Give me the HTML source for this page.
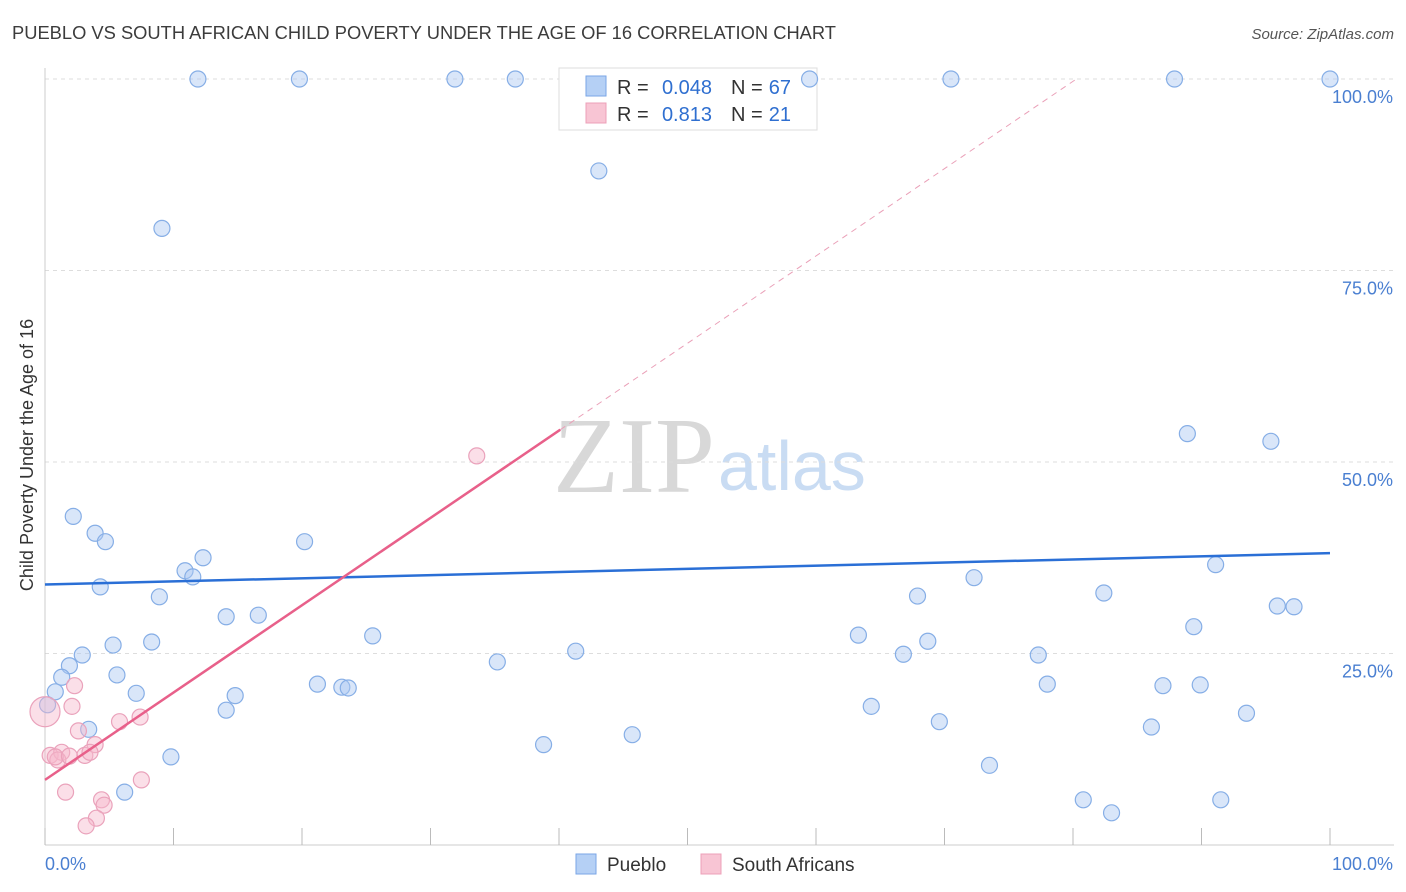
<!DOCTYPE html>
<html><head><meta charset="utf-8"><style>
body{margin:0;background:#fff;font-family:"Liberation Sans",sans-serif}
svg{display:block}
</style></head><body>
<svg id="chart" width="1406" height="892">
<text x="12" y="39" font-size="18" fill="#3c3c3c" textLength="824" lengthAdjust="spacingAndGlyphs">PUEBLO VS SOUTH AFRICAN CHILD POVERTY UNDER THE AGE OF 16 CORRELATION CHART</text>
<text x="1394" y="39" font-size="15" fill="#555" font-style="italic" text-anchor="end">Source: ZipAtlas.com</text>
<text x="33" y="455" font-size="18" fill="#333" text-anchor="middle" transform="rotate(-90 33 455)">Child Poverty Under the Age of 16</text>
<text x="715" y="492" font-size="108" fill="#d8d8d8" text-anchor="end" font-family="Liberation Serif,serif">ZIP</text>
<text x="718" y="490" font-size="70" fill="#c9dcf3">atlas</text>
<g id="grid"></g>
<g>
<rect x="559" y="68" width="258" height="62" fill="#fff" stroke="#ddd"/>
<rect x="586" y="76" width="20" height="20" fill="#b5d0f5" stroke="#7aa6e6"/>
<rect x="586" y="103" width="20" height="20" fill="#f8c5d4" stroke="#eda0b8"/>
<text x="617" y="94" font-size="20" fill="#333">R =</text>
<text x="712" y="94" font-size="20" fill="#2f6fd0" text-anchor="end">0.048</text>
<text x="731" y="94" font-size="20" fill="#333">N =</text>
<text x="791" y="94" font-size="20" fill="#2f6fd0" text-anchor="end">67</text>
<text x="617" y="121" font-size="20" fill="#333">R =</text>
<text x="712" y="121" font-size="20" fill="#2f6fd0" text-anchor="end">0.813</text>
<text x="731" y="121" font-size="20" fill="#333">N =</text>
<text x="791" y="121" font-size="20" fill="#2f6fd0" text-anchor="end">21</text>
</g>
<g id="marks"></g>
<g>
<rect x="576" y="854" width="20" height="20" fill="#b5d0f5" stroke="#7aa6e6"/>
<text x="607" y="871" font-size="19" fill="#333">Pueblo</text>
<rect x="701" y="854" width="20" height="20" fill="#f8c5d4" stroke="#eda0b8"/>
<text x="732" y="871" font-size="19" fill="#333">South Africans</text>
</g>
</svg>
<script>
const puebloX=[11.9,19.8,31.9,36.6,59.5,70.5,87.9,100,43.1,9.1,88.9,95.4,2.2,3.9,4.7,20.2,12.3,10.9,11.5,4.3,8.9,72.3,91.1,67.9,82.4,95.9,97.2,14.1,16.6,89.4,5.3,8.3,25.5,63.3,68.7,41.3,2.9,66.8,77.3,35.2,1.9,1.3,5.6,21.2,23.1,23.6,78.0,87.0,89.9,0.8,7.1,14.8,0.2,14.1,64.3,93.5,69.6,3.4,86.1,45.7,38.8,9.8,73.5,6.2,80.8,91.5,83.0];
const puebloY=[100,100,100,100,100,100,100,100,88.0,80.5,53.7,52.7,42.9,40.7,39.6,39.6,37.5,35.8,35.0,33.7,32.4,34.9,36.6,32.5,32.9,31.2,31.1,29.8,30.0,28.5,26.1,26.5,27.3,27.4,26.6,25.3,24.8,24.9,24.8,23.9,23.4,21.9,22.2,21.0,20.6,20.5,21.0,20.8,20.9,20.0,19.8,19.5,18.3,17.6,18.1,17.2,16.1,15.1,15.4,14.4,13.1,11.5,10.4,6.9,5.9,5.9,4.2];
const saX=[0,33.6,2.3,2.1,2.6,5.8,7.4,0.4,1.3,1.0,3.1,3.9,3.5,7.5,1.6,4.4,4.6,4.0,3.2,0.8,1.9];
const saY=[17.4,50.8,20.8,18.1,14.9,16.1,16.7,11.7,12.1,11.1,11.7,13.1,12.1,8.5,6.9,5.9,5.2,3.5,2.5,11.5,11.6];
const yTicks=[25,50,75,100];
const yTickLabels=["25.0%","50.0%","75.0%","100.0%"];
const xTicks=[0,10,20,30,40,50,60,70,80,90,100];
const blueLine=[34.0,38.1];
const pinkLine=[8.5,1.14];
const NS="http://www.w3.org/2000/svg";
const sx=v=>45+v*12.85, sy=v=>845-v*7.66;
function mk(tag,attrs,parent){const e=document.createElementNS(NS,tag);for(const k in attrs)e.setAttribute(k,attrs[k]);parent.appendChild(e);return e;}
const grid=document.getElementById('grid'),marks=document.getElementById('marks');
yTicks.forEach((t,i)=>{
 const l=mk('line',{x1:45,x2:1394,y1:sy(t),y2:sy(t),stroke:'#ddd','stroke-dasharray':'4,4'},grid);
 
 
 const tx=mk('text',{x:1393,y:sy(t)+24,'font-size':18,fill:'#4a7fd1','text-anchor':'end'},grid);
 tx.textContent=yTickLabels[i];
 
 
});
const ax=mk('line',{x1:45,x2:45,y1:68,y2:845,stroke:'#ccc'},grid);


const bx=mk('line',{x1:45,x2:1394,y1:845,y2:845,stroke:'#ccc'},grid);


xTicks.forEach(t=>{
 const l=mk('line',{x1:sx(t),x2:sx(t),y1:828,y2:845,stroke:'#bbb'},grid);
 
 
});
[["0.0%",45,'start'],["100.0%",1393,'end']].forEach(a=>{
 const t=mk('text',{x:a[1],y:870,'font-size':18,fill:'#4a7fd1','text-anchor':a[2]},grid);
 t.textContent=a[0];
 
 
});
puebloX.forEach((x,i)=>{
 const c=mk('circle',{cx:sx(x),cy:sy(puebloY[i]),r:8,fill:'rgba(170,200,242,0.45)',stroke:'#86aee6','stroke-width':1.2},marks);
 
 
});
saX.forEach((x,i)=>{
 const c=mk('circle',{cx:sx(x),cy:sy(saY[i]),r:i===0?15:8,fill:'rgba(246,185,205,0.45)',stroke:'#eaa2bb','stroke-width':1.2},marks);
 
 
});
const bl=mk('line',{x1:sx(0),y1:sy(blueLine[0]),x2:sx(100),y2:sy(blueLine[1]),stroke:'#2a6fd6','stroke-width':2.5},marks);


const xEnd=40.1, xMax=(100-pinkLine[0])/pinkLine[1];
const pl=mk('line',{x1:sx(0),y1:sy(pinkLine[0]),x2:sx(xEnd),y2:sy(pinkLine[0]+pinkLine[1]*xEnd),stroke:'#e8608a','stroke-width':2.5},marks);


const pd=mk('line',{x1:sx(xEnd),y1:sy(pinkLine[0]+pinkLine[1]*xEnd),x2:sx(xMax),y2:sy(100),stroke:'#eaa0b8','stroke-width':1,'stroke-dasharray':'6,5'},marks);


</script>
</body></html>
